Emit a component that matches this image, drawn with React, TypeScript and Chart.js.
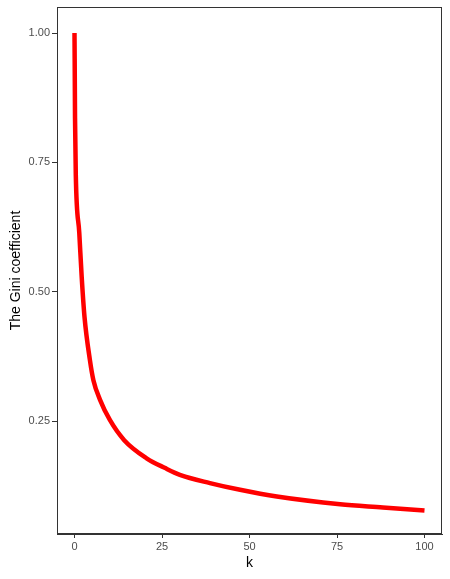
import React, { useEffect, useRef } from "react";
import { Chart, registerables } from "chart.js";

Chart.register(...registerables);

const kValues = [0, 0.05, 0.15, 0.37, 1.37, 2.06, 2.86, 4.4, 5.4, 7.3, 10.1, 14.2, 20.6, 25.9, 30.1, 38.7, 47.3, 57.8, 75.9, 88.1, 100];
const giniValues = [1.0, 0.95, 0.836, 0.726, 0.613, 0.528, 0.451, 0.368, 0.329, 0.291, 0.252, 0.213, 0.178, 0.159, 0.146, 0.13, 0.117, 0.104, 0.089, 0.083, 0.077];
const xTicks = [0, 25, 50, 75, 100];
const yTicks = [0.25, 0.5, 0.75, 1.0];

const panelBorder = {
  id: "panelBorder",
  afterDraw(chart: any) {
    const { ctx, chartArea } = chart;
    ctx.save();
    ctx.strokeStyle = "#333333";
    ctx.lineWidth = 1;
    ctx.strokeRect(
      Math.round(chartArea.left) + 0.5,
      Math.round(chartArea.top) + 0.5,
      Math.round(chartArea.right - chartArea.left) - 1,
      Math.round(chartArea.bottom - chartArea.top) - 1
    );
    ctx.restore();
  },
};

export default function App() {
  const ref = useRef<HTMLCanvasElement>(null);
  useEffect(() => {
    const canvas = ref.current;
    if (!canvas) return;
    const chart = new Chart(canvas, {
      type: "line",
      data: {
        datasets: [
          {
            data: kValues.map((k, i) => ({ x: k, y: giniValues[i] })),
            borderColor: "#ff0000",
            borderWidth: 4.5,
            pointRadius: 0,
            cubicInterpolationMode: "monotone",
            borderJoinStyle: "round",
            borderCapStyle: "butt",
            fill: false,
          },
        ],
      },
      options: {
        responsive: false,
        animation: false,
        events: [],
        layout: { padding: { left: 0, top: 7, right: 8, bottom: 0 } },
        plugins: { legend: { display: false }, tooltip: { enabled: false } },
        scales: {
          x: {
            type: "linear",
            min: -5,
            max: 105,
            afterBuildTicks: (s: any) => {
              s.ticks = xTicks.map((v) => ({ value: v }));
            },
            afterFit: (s: any) => {
              s.height = 45;
              s.paddingLeft = 0;
              s.paddingRight = 0;
            },
            grid: { drawOnChartArea: false, drawTicks: true, tickLength: 4, color: "#333333" },
            border: { display: true, color: "#333333" },
            ticks: {
              padding: 2,
              color: "#4d4d4d",
              font: { family: "'Liberation Sans', Arial, sans-serif", size: 11 },
              callback: (v: any) => String(v),
            },
            title: {
              display: true,
              text: "k",
              color: "#000000",
              font: { family: "'Liberation Sans', Arial, sans-serif", size: 14 },
              padding: { top: 0, bottom: 7 },
            },
          },
          y: {
            type: "linear",
            min: 0.0316,
            max: 1.0503,
            afterBuildTicks: (s: any) => {
              s.ticks = yTicks.map((v) => ({ value: v }));
            },
            afterFit: (s: any) => {
              s.width = 57;
              s.paddingTop = 0;
              s.paddingBottom = 0;
            },
            grid: { drawOnChartArea: false, drawTicks: true, tickLength: 5, color: "#333333" },
            border: { display: true, color: "#333333" },
            ticks: {
              padding: 2,
              color: "#4d4d4d",
              font: { family: "'Liberation Sans', Arial, sans-serif", size: 11 },
              callback: (v: any) => Number(v).toFixed(2),
            },
            title: {
              display: true,
              text: "The Gini coefficient",
              color: "#000000",
              font: { family: "'Liberation Sans', Arial, sans-serif", size: 14 },
              padding: { top: 7.5, bottom: 0 },
            },
          },
        },
      },
      plugins: [panelBorder],
    });
    return () => chart.destroy();
  }, []);
  return (
    <div style={{ position: "absolute", left: 0, top: 0, width: 450, height: 579, background: "#ffffff" }}>
      <canvas ref={ref} width={450} height={579} />
    </div>
  );
}
